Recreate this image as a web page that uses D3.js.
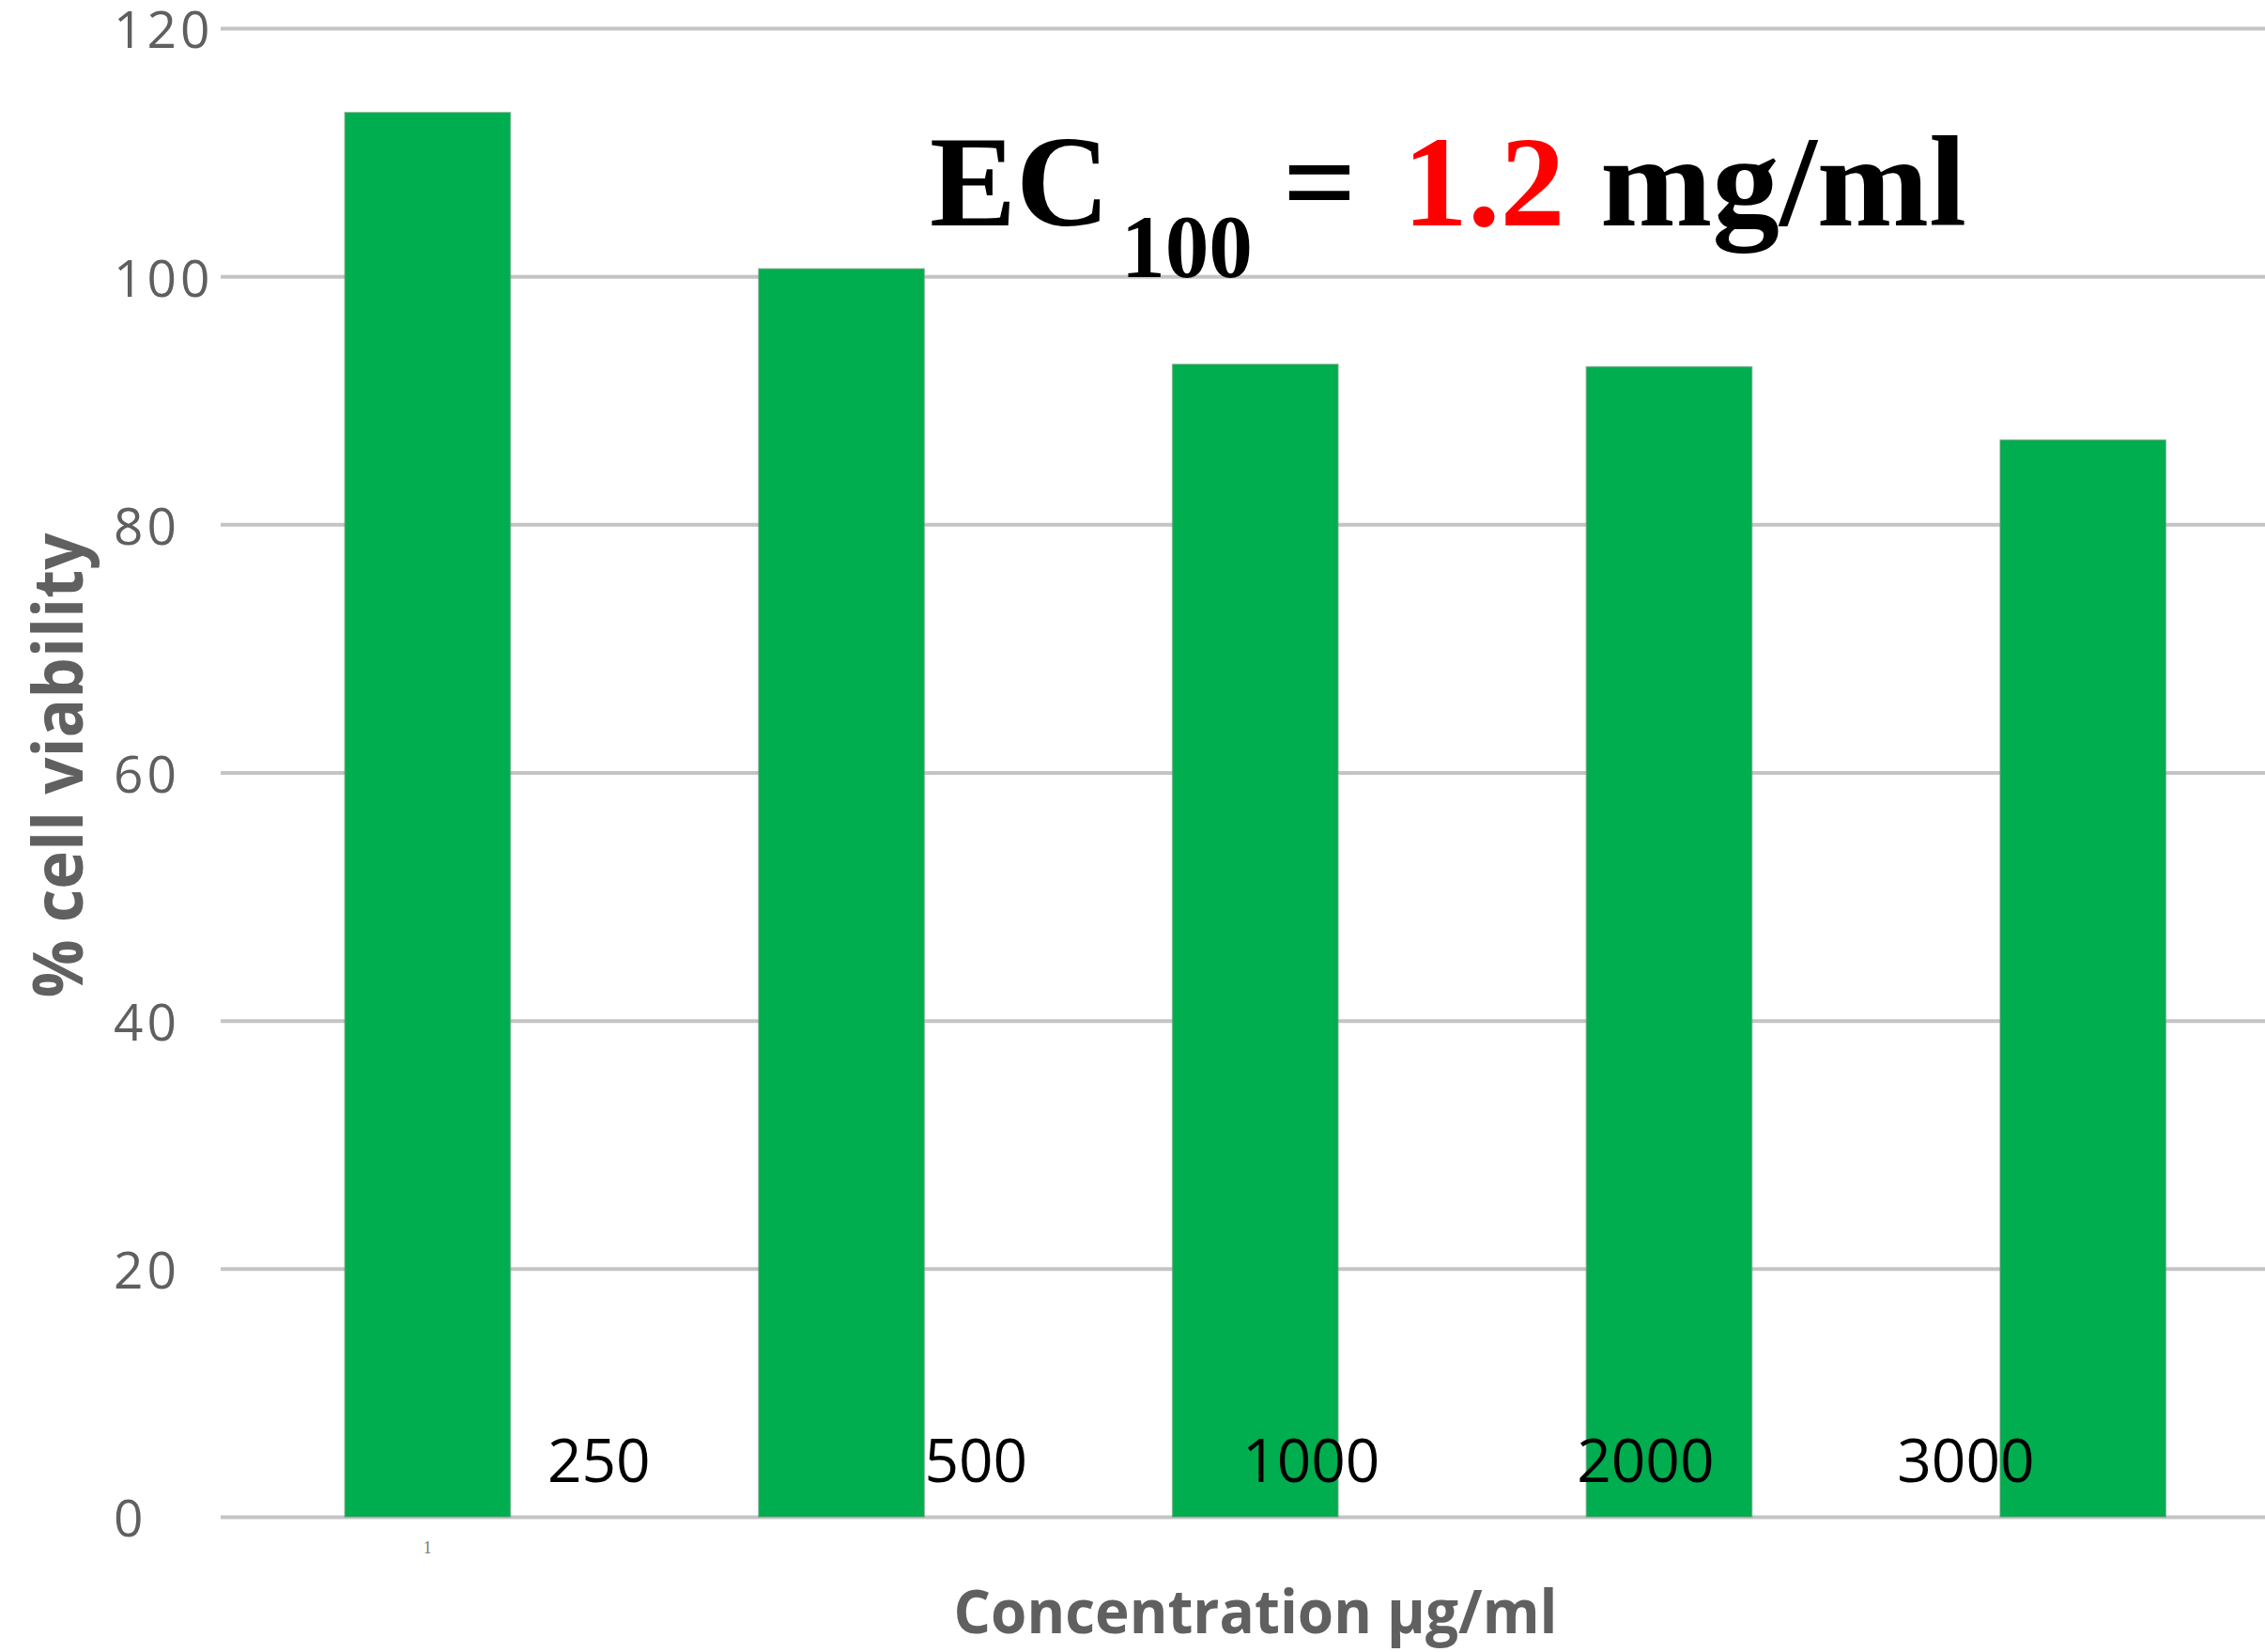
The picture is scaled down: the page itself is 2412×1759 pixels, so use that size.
<!DOCTYPE html>
<html>
<head>
<meta charset="utf-8">
<script src="https://cdn.jsdelivr.net/npm/d3@7"></script>
<style>
  html, body { margin: 0; padding: 0; background: #ffffff; }
  svg { display: block; }
</style>
</head>
<body>
<script>
// ---- data ----
const categories = ["c1", "c2", "c3", "c4", "c5"];
const viability = [113.2, 100.6, 92.9, 92.7, 86.8];
const concentrationLabels = ["250", "500", "1000", "2000", "3000"];
const xTickLabels = ["1", "", "", "", ""];
const yTicks = [0, 20, 40, 60, 80, 100, 120];

// ---- layout ----
const W = 2412, H = 1759;
const gridX0 = 235;
const labelShift = [0.414, 0.325, 0.135, -0.057, -0.283]; // fraction of band step

const svg = d3.select("body").append("svg")
  .attr("width", W).attr("height", H);

const x = d3.scaleBand().domain(categories)
  .range([gridX0, 2438.5]).paddingInner(0.6).paddingOuter(0.3);
const y = d3.scaleLinear().domain([0, 120]).range([1615, 30]);

// gridlines + y tick labels
const yAxisG = svg.append("g")
  .attr("transform", `translate(${gridX0},0)`)
  .call(d3.axisLeft(y).tickValues(yTicks).tickSize(-(W - gridX0)).tickPadding(0));
yAxisG.select(".domain").remove();
yAxisG.selectAll(".tick line")
  .attr("stroke", "#c4c4c4").attr("stroke-width", 4);
yAxisG.selectAll(".tick text")
  .attr("x", 121 - gridX0)
  .attr("text-anchor", "start")
  .attr("dy", "0.38em")
  .attr("fill", "#5f5f5f")
  .style("font-family", "'Open Sans', sans-serif")
  .style("font-size", "55px")
  .style("letter-spacing", "4px");

// bars
svg.append("g").selectAll("rect")
  .data(categories)
  .join("rect")
  .attr("x", d => x(d))
  .attr("width", x.bandwidth())
  .attr("y", (d, i) => y(viability[i]))
  .attr("height", (d, i) => y(0) - y(viability[i]))
  .attr("fill", "#00ad4f")
  .attr("stroke", "#5c9c70")
  .attr("stroke-width", 1.5)
  .attr("stroke-opacity", 0.6);

// x axis tiny tick label
const xAxisG = svg.append("g")
  .attr("transform", `translate(0,${y(0)})`)
  .call(d3.axisBottom(x).tickSize(0).tickPadding(26)
    .tickFormat((d, i) => xTickLabels[i]));
xAxisG.select(".domain").remove();
xAxisG.selectAll(".tick text")
  .attr("fill", "#777")
  .style("font-family", "'Liberation Serif', serif")
  .style("font-size", "18px");

// concentration annotations
svg.append("g").selectAll("text")
  .data(categories)
  .join("text")
  .attr("x", (d, i) => x(d) + x.bandwidth() / 2 + labelShift[i] * x.step())
  .attr("y", 1578)
  .attr("text-anchor", "middle")
  .attr("fill", "#000")
  .style("font-family", "'Open Sans', sans-serif")
  .style("font-size", "64px")
  .text((d, i) => concentrationLabels[i]);

// axis titles
svg.append("text")
  .attr("transform", "translate(88,815) rotate(-90)")
  .attr("text-anchor", "middle")
  .attr("fill", "#606060")
  .attr("textLength", 495)
  .attr("lengthAdjust", "spacingAndGlyphs")
  .style("font-family", "'Open Sans', sans-serif")
  .style("font-weight", "700")
  .style("font-size", "74px")
  .text("% cell viability");

svg.append("text")
  .attr("x", 1337).attr("y", 1739)
  .attr("text-anchor", "middle")
  .attr("fill", "#606060")
  .attr("textLength", 643)
  .attr("lengthAdjust", "spacingAndGlyphs")
  .style("font-family", "'Open Sans', sans-serif")
  .style("font-weight", "700")
  .style("font-size", "64px")
  .text("Concentration µg/ml");

// EC100 annotation
const ec = svg.append("text")
  .attr("y", 240)
  .attr("fill", "#000")
  .style("font-family", "'Liberation Serif', 'Times New Roman', serif")
  .style("font-weight", "700")
  .style("font-size", "138px");
ec.append("tspan").attr("x", 990).text("EC");
ec.append("tspan").attr("x", 1194).attr("y", 295).style("font-size", "96px")
  .attr("textLength", 140).attr("lengthAdjust", "spacingAndGlyphs").text("100");
ec.append("tspan").attr("x", 1366).attr("y", 240).text("=");
ec.append("tspan").attr("x", 1494).attr("fill", "#ff0000").text("1.2");
ec.append("tspan").attr("x", 1704).attr("textLength", 390)
  .attr("lengthAdjust", "spacingAndGlyphs").text("mg/ml");
</script>
</body>
</html>
